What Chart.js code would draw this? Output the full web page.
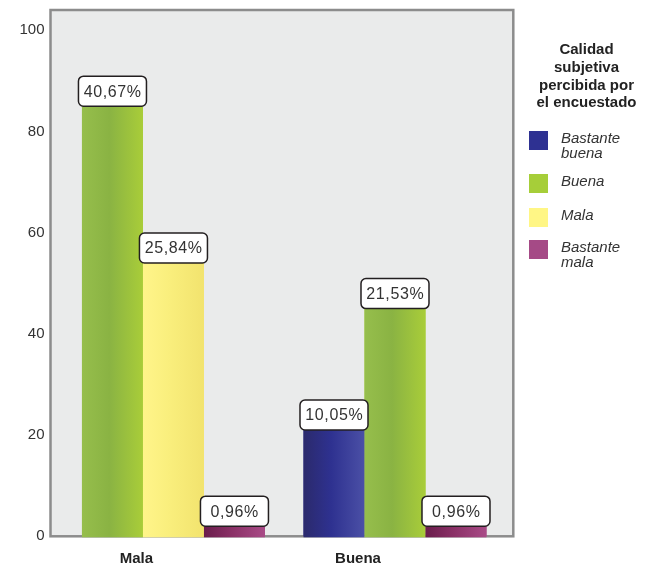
<!DOCTYPE html>
<html>
<head>
<meta charset="utf-8">
<script src="https://cdn.jsdelivr.net/npm/chart.js@4"></script>
<style>
  html, body { margin: 0; padding: 0; background: #fff; }
  #wrap { width: 653px; height: 564px; }
</style>
</head>
<body>
<div id="wrap"><canvas id="chart" width="653" height="564"></canvas></div>
<script>
// categorías del eje X y series (recuentos, n = 209)
const categories = ['Mala', 'Buena'];
const seriesLabels = ['Bastante buena', 'Buena', 'Mala', 'Bastante mala'];
const bastanteBuena = [null, 21];
const buena = [85, 45];
const mala = [54, null];
const bastanteMala = [2, 2];
const total = 209;
const yTicks = [0, 20, 40, 60, 80, 100];
const legendTitle = ['Calidad', 'subjetiva', 'percibida por', 'el encuestado'];

const seriesValues = [bastanteBuena, buena, mala, bastanteMala];
const swatchColors = ['#2e3192', '#a6ce39', '#fff685', '#a54a86'];
// degradado horizontal de cada barra: izquierda, centro, derecha
const barGradients = [
    ['#2b2a6c', '#2e3190', '#4b50a6'],
    ['#96be4c', '#8ab343', '#a9cd39'],
    ['#fff58a', '#f9ee7c', '#f2e36e'],
    ['#6a1d4c', '#8a3066', '#a94b87'],
];
const FONT = '"Liberation Sans", Arial, sans-serif';

function pctLabel(v) {
    return (v / total * 100).toFixed(2).replace('.', ',') + '%';
}

const plotDecor = {
    id: 'plotDecor',
    beforeDatasetsDraw(chart) {
        const { ctx, chartArea: a } = chart;
        ctx.save();
        ctx.fillStyle = '#eaebeb';
        ctx.fillRect(a.left, a.top, a.right - a.left, a.bottom - a.top);
        // marco del área de trazado (las barras lo tapan abajo)
        ctx.strokeStyle = '#8c8c8c';
        ctx.lineWidth = 2.5;
        ctx.strokeRect(a.left, a.top, a.right - a.left, a.bottom - a.top);
        ctx.restore();
    },
    afterDatasetsDraw(chart) {
        const ctx = chart.ctx;
        ctx.save();
        // barras con degradado
        chart.data.datasets.forEach((ds, i) => {
            const meta = chart.getDatasetMeta(i);
            meta.data.forEach((el, j) => {
                if (ds.data[j] == null) return;
                const p = el.getProps(['x', 'y', 'base', 'width'], true);
                const left = p.x - p.width / 2;
                const g = ctx.createLinearGradient(left, 0, left + p.width, 0);
                g.addColorStop(0, barGradients[i][0]);
                g.addColorStop(0.45, barGradients[i][1]);
                g.addColorStop(1, barGradients[i][2]);
                ctx.fillStyle = g;
                ctx.fillRect(left, p.y, p.width, p.base - p.y + 1);
            });
        });
        // etiquetas de porcentaje
        chart.data.datasets.forEach((ds, i) => {
            const meta = chart.getDatasetMeta(i);
            meta.data.forEach((el, j) => {
                const v = ds.data[j];
                if (v == null) return;
                const bw = 68, bh = 30;
                const bx = el.x - bw / 2, by = el.y - bh;
                ctx.beginPath();
                ctx.roundRect(bx, by, bw, bh, 5);
                ctx.fillStyle = '#ffffff';
                ctx.fill();
                ctx.strokeStyle = '#231f20';
                ctx.lineWidth = 1.5;
                ctx.stroke();
                ctx.fillStyle = '#333333';
                ctx.font = '16px ' + FONT;
                ctx.letterSpacing = '0.6px';
                ctx.textAlign = 'center';
                ctx.textBaseline = 'middle';
                ctx.fillText(pctLabel(v), el.x + 0.3, by + bh / 2 + 1);
            });
        });
        ctx.restore();
    },
    afterDraw(chart) {
        const ctx = chart.ctx;
        ctx.save();
        ctx.fillStyle = '#222222';
        ctx.font = 'bold 15px ' + FONT;
        ctx.textAlign = 'center';
        ctx.textBaseline = 'alphabetic';
        legendTitle.forEach((t, k) => ctx.fillText(t, 586.5, 54 + k * 17.8));

        const rowTops = [131, 174, 208, 240];
        ctx.textAlign = 'left';
        ctx.font = 'italic 15px ' + FONT;
        seriesLabels.forEach((lab, i) => {
            const top = rowTops[i];
            ctx.fillStyle = swatchColors[i];
            ctx.fillRect(529, top, 19, 19);
            ctx.fillStyle = '#333333';
            const lines = lab.split(' ');
            lines.forEach((ln, k) => ctx.fillText(ln, 561, top + 11.7 + k * 15));
        });
        ctx.restore();
    }
};

const ctx = document.getElementById('chart').getContext('2d');
new Chart(ctx, {
    type: 'bar',
    data: {
        labels: categories,
        datasets: seriesValues.map((d, i) => ({
            label: seriesLabels[i],
            data: d,
            backgroundColor: swatchColors[i],
            borderWidth: 0,
        })),
    },
    options: {
        responsive: false,
        animation: false,
        layout: { padding: { top: 10, right: 139.7, left: 0, bottom: 0 } },
        datasets: {
            bar: { skipNull: true, categoryPercentage: 0.826, barPercentage: 1 },
        },
        plugins: {
            legend: { display: false },
            tooltip: { enabled: false },
        },
        scales: {
            x: {
                grid: { display: false, drawTicks: false },
                border: { display: false },
                ticks: {
                    font: { family: FONT, size: 15, weight: 'bold' },
                    color: '#222222',
                    padding: 14,
                    labelOffset: -37,
                },
                // grupos algo más juntos que el reparto por defecto
                afterBuildTicks(scale) {
                    scale._startValue = -0.555;
                    scale._valueRange = 2.089;
                },
                afterFit(scale) {
                    scale.height = 27.7;
                    scale.paddingLeft = 0;
                    scale.paddingRight = 0;
                },
            },
            y: {
                min: 0,
                max: 104,
                grid: { display: false, drawTicks: false },
                border: { display: false },
                ticks: {
                    font: { family: FONT, size: 15 },
                    color: '#333333',
                    padding: 6,
                },
                afterBuildTicks(scale) { scale.ticks = yTicks.map(v => ({ value: v })); },
                afterFit(scale) {
                    scale.width = 50.5;
                    scale.paddingTop = 0;
                    scale.paddingBottom = 0;
                },
            },
        },
    },
    plugins: [plotDecor],
});
</script>
</body>
</html>
